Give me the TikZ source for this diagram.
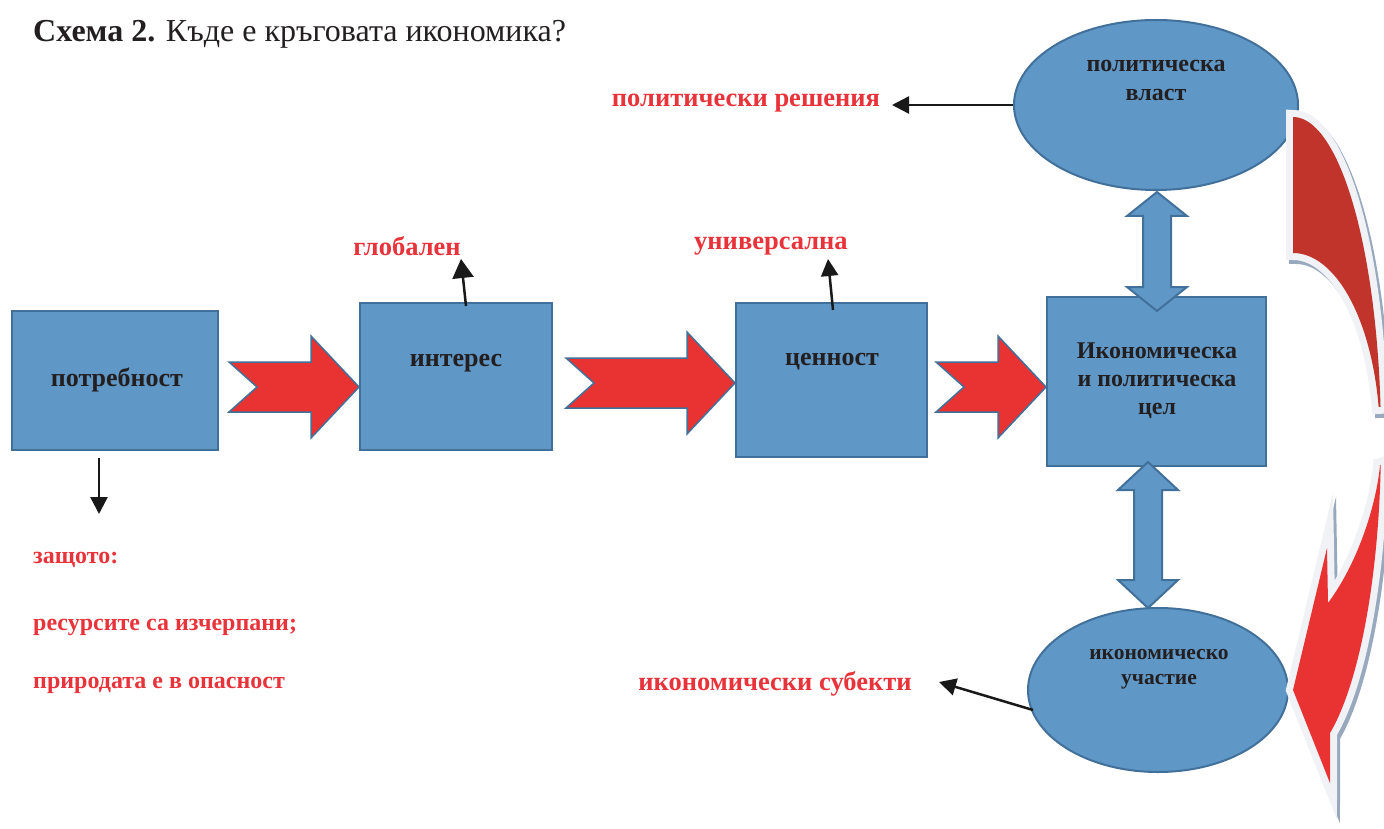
\documentclass[tikz,border=0pt]{standalone}
\usepackage{fontspec}
\setmainfont{Liberation Serif}
\usetikzlibrary{arrows.meta,calc,shapes.geometric}

\definecolor{boxblue}{HTML}{5F97C6}
\definecolor{boxedge}{HTML}{41709A}
\definecolor{arrred}{HTML}{E93232}
\definecolor{darkred}{HTML}{C0342B}
\definecolor{txtred}{HTML}{E8333A}
\definecolor{txtdark}{HTML}{231F20}
\definecolor{rimwhite}{HTML}{F0F2F5}
\definecolor{rimshadow}{HTML}{98A9BE}

\tikzset{
  box/.style={draw=boxedge, line width=2pt, fill=boxblue, rectangle, inner sep=0pt},
  oval/.style={draw=boxedge, line width=2pt, fill=boxblue, ellipse, inner sep=0pt},
  boxtext/.style={font=\fontsize{26}{29}\selectfont\bfseries, text=txtdark, align=center, inner sep=0pt},
  ovaltext/.style={font=\fontsize{24}{29}\selectfont\bfseries, text=txtdark, align=center, inner sep=0pt},
  redtext/.style={font=\fontsize{26.5}{30}\selectfont\bfseries, text=txtred, inner sep=0pt},
  notetext/.style={font=\fontsize{24}{28}\selectfont\bfseries, text=txtred, inner sep=0pt, anchor=west},
  redblock/.style={fill=arrred, draw=boxedge, line width=1.5pt, line join=miter},
  blueblock/.style={fill=boxblue, draw=boxedge, line width=2pt, line join=miter},
  pointer/.style={draw=black!90, line width=2.5pt, -{Triangle[length=17pt, width=17pt]}},
  bigpointer/.style={draw=black!90, line width=2.5pt, -{Triangle[length=19pt, width=21pt]}},
}

% red block arrow: from node, to node, gap, y
\newcommand{\redarrow}[4]{%
  \path[redblock] let \p1=(#1.east), \p2=(#2.west) in
    (\x1+#3pt,#4-25) -- (\x2-48pt,#4-25) -- (\x2-48pt,#4-51) -- (\x2,#4)
    -- (\x2-48pt,#4+51) -- (\x2-48pt,#4+25) -- (\x1+#3pt,#4+25)
    -- (\x1+#3pt+28pt,#4) -- cycle;}

% blue double arrow: x, top, bottom, head length
\newcommand{\twoway}[4]{%
  \path[blueblock] (#1,#2) -- (#1+30,#2+#4) -- (#1+14,#2+#4) -- (#1+14,#3-#4)
    -- (#1+30,#3-#4) -- (#1,#3) -- (#1-30,#3-#4) -- (#1-14,#3-#4)
    -- (#1-14,#2+#4) -- (#1-30,#2+#4) -- cycle;}

\begin{document}
\begin{tikzpicture}[x=1pt, y=-1pt]
\useasboundingbox (0,0) rectangle (1384,829);

% title
\node[anchor=base west, inner sep=0pt, font=\fontsize{32}{35}\selectfont, text=txtdark] (title) at (33,42)
  {\textbf{Схема 2.} Къде е кръговата икономика?};

% boxes
\node[box, minimum width=206pt, minimum height=139pt] (potr) at (115,380.5) {};
\node[box, minimum width=192pt, minimum height=147pt] (inter) at (456,376.5) {};
\node[box, minimum width=191pt, minimum height=154pt] (cenn) at (831.5,380) {};
\node[box, minimum width=219pt, minimum height=169pt] (cel) at (1156.5,381.5) {};
\node[oval, minimum width=284pt, minimum height=170pt] (vlast) at (1156,105) {};
\node[oval, minimum width=260pt, minimum height=164pt] (uch) at (1158,690) {};

\node[boxtext] (potr-t) at (117,380) {потребност};
\node[boxtext] (inter-t) at (456,363) {интерес};
\node[boxtext] (cenn-t) at (832,362) {ценност};
\node[boxtext, font=\fontsize{24}{28}\selectfont\bfseries] (cel-t) at (1157,381) {Икономическа\\и политическа\\цел};
\node[ovaltext] (vlast-t) at (1156,80) {политическа\\власт};
\node[ovaltext, font=\fontsize{21.5}{25}\selectfont\bfseries] (uch-t) at (1159,669) {икономическо\\участие};

% block arrows
\redarrow{potr}{inter}{10}{387}
\redarrow{inter}{cenn}{13}{383}
\redarrow{cenn}{cel}{8}{387}
\twoway{1157}{192}{311}{24}
\twoway{1148}{462}{608}{28}

% curved arrow on the right
\begin{scope}
  \def\upperpiece{plot[domain=90:5.9, samples=60] ({1293+88*cos(\x)}, {440-323*sin(\x)})
    -- plot[domain=10.2:90, samples=60] ({1293+87*cos(\x)}, {440-187*sin(\x)}) -- cycle}
  \def\lowerpiece{plot[domain=-4.4:-65.1, samples=60] ({1293+88*cos(\x)}, {440-323*sin(\x)})
    -- (1330,783) -- (1293,690) -- (1327,548) -- (1328,603)
    .. controls (1360,560) and (1377,500) .. (1380,465) -- cycle}
  \draw[rimshadow, line width=14pt, line join=miter, shift={(3,4)}] \upperpiece;
  \draw[rimshadow, line width=14pt, line join=miter, shift={(3,4)}] \lowerpiece;
  \draw[rimwhite, line width=14pt, line join=miter] \upperpiece;
  \draw[rimwhite, line width=14pt, line join=miter] \lowerpiece;
  \fill[darkred] \upperpiece;
  \fill[arrred] \lowerpiece;
\end{scope}

% labels
\node[redtext] (resh) at (746,103) {политически решения};
\node[redtext] (glob) at (407,246) {глобален};
\node[redtext] (univ) at (771,246) {универсална};
\node[redtext] (subj) at (775,684) {икономически субекти};
\node[notetext] (zashto) at (33,560) {защото:};
\node[notetext] (resurs) at (33,627) {ресурсите са изчерпани;};
\node[notetext] (priroda) at (33,685) {природата е в опасност};

% pointers
\coordinate (potr-dn) at (99,458);
\coordinate (zashto-up) at (99,514);
\coordinate (inter-up) at (466,306);
\coordinate (glob-dn) at (461,259);
\coordinate (cenn-up) at (833,310);
\coordinate (univ-dn) at (828,259);
\coordinate (resh-end) at (892,105);
\coordinate (uch-w) at (1033,710);
\coordinate (subj-end) at (939,682);
\draw[pointer] (potr-dn) -- (zashto-up);
\draw[bigpointer] (inter-up) -- (glob-dn);
\draw[pointer] (cenn-up) -- (univ-dn);
\draw[pointer] (vlast.west) -- (resh-end);
\draw[pointer] (uch-w) -- (subj-end);
\end{tikzpicture}
\end{document}
